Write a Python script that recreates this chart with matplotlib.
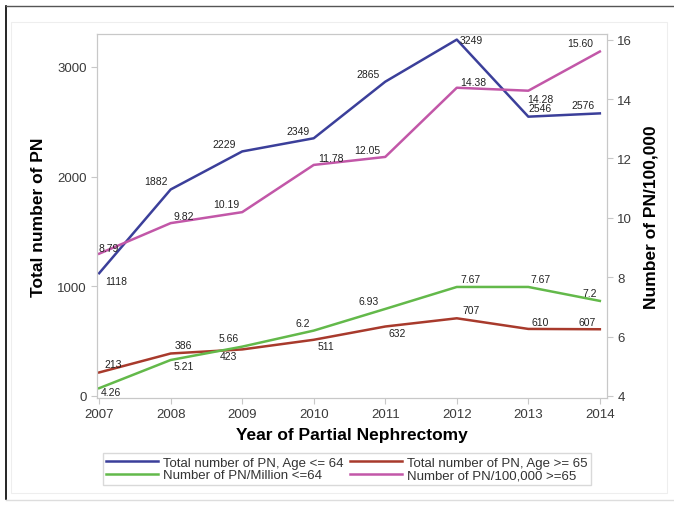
import matplotlib
matplotlib.use('Agg')
import matplotlib.pyplot as plt
from matplotlib.lines import Line2D
from matplotlib.patches import Rectangle

plt.rcParams['font.family'] = ['Liberation Sans', 'DejaVu Sans']

# 데이터
years = [2007, 2008, 2009, 2010, 2011, 2012, 2013, 2014]
total_le64 = [1118, 1882, 2229, 2349, 2865, 3249, 2546, 2576]
total_ge65 = [213, 386, 423, 511, 632, 707, 610, 607]
per_million_le64 = [4.26, 5.21, 5.66, 6.2, 6.93, 7.67, 7.67, 7.2]
per_100k_ge65 = [8.79, 9.82, 10.19, 11.78, 12.05, 14.38, 14.28, 15.60]

c_blue = '#3b3f9a'
c_red = '#a83a2c'
c_green = '#63b94a'
c_pink = '#c257a8'

W, H = 674, 506
fig = plt.figure(figsize=(W / 100, H / 100), dpi=100)
ax = fig.add_axes([97 / W, 1 - 399 / H, (607 - 97) / W, (399 - 35) / H])
ax2 = ax.twinx()

ax.plot(years, total_le64, color=c_blue, lw=1.8)
ax.plot(years, total_ge65, color=c_red, lw=1.8)
ax2.plot(years, per_million_le64, color=c_green, lw=1.8)
ax2.plot(years, per_100k_ge65, color=c_pink, lw=1.8)

ax.set_xlim(2006.97, 2014.1)
ax.set_ylim(-20, 3300)
ax2.set_ylim(3.93, 16.19)
ax.set_xticks(years)
ax.set_yticks([0, 1000, 2000, 3000])
ax2.set_yticks([4, 6, 8, 10, 12, 14, 16])

for a in (ax, ax2):
    for s in a.spines.values():
        s.set_color('#c8c8c8')
    a.tick_params(colors='#c8c8c8', labelcolor='#3a3a3a', labelsize=9.5, length=4)

ax.set_xlabel('Year of Partial Nephrectomy', fontsize=12.5, fontweight='bold', labelpad=5)
ax.set_ylabel('Total number of PN', fontsize=12.5, fontweight='bold', labelpad=8)
ax2.set_ylabel('Number of PN/100,000', fontsize=12.5, fontweight='bold', labelpad=8)

fs = 7.5

# 라벨 위치 (픽셀 오프셋: 오른쪽 +, 아래쪽 +)
def put_labels(a, vals, texts, offs):
    for x, y, t, (dx, dy) in zip(years, vals, texts, offs):
        a.annotate(t, (x, y), xytext=(dx, -dy), textcoords='offset pixels',
                   ha='center', va='center', fontsize=fs, color='#222222')

put_labels(ax, total_le64, [f"{v}" for v in total_le64],
           [(17, 8), (-15, -8), (-18, -7), (-16, -7), (-17, -8), (14, 0), (12, -9), (-17, -8)])
put_labels(ax, total_ge65, [f"{v}" for v in total_ge65],
           [(14, -8), (13, -8), (-14, 7), (12, 6), (12, 6), (14, -8), (12, -7), (-13, -7)])
put_labels(ax2, per_million_le64, [f"{v:g}" for v in per_million_le64],
           [(12, 4), (13, 6), (-14, -9), (-11, -8), (-17, -8), (14, -8), (12, -8), (-10, -8)])
put_labels(ax2, per_100k_ge65, [f"{v:.2f}" for v in per_100k_ge65],
           [(10, -6), (13, -7), (-16, -8), (17, -7), (-18, -7), (16, -6), (12, 8), (-20, -9)])

handles = [Line2D([], [], color=c_blue, lw=1.8), Line2D([], [], color=c_red, lw=1.8),
           Line2D([], [], color=c_green, lw=1.8), Line2D([], [], color=c_pink, lw=1.8)]
labels = ['Total number of PN, Age <= 64', 'Total number of PN, Age >= 65',
          'Number of PN/Million <=64', 'Number of PN/100,000 >=65']
order = [0, 2, 1, 3]
leg = fig.legend([handles[i] for i in order], [labels[i] for i in order], ncol=2,
                 loc='center', bbox_to_anchor=(347 / W, 1 - 470 / H), fontsize=9.5,
                 frameon=True, fancybox=False, edgecolor='#d0d0d0', handlelength=3.9,
                 columnspacing=0.5, handletextpad=0.4, labelspacing=0.0, borderpad=0.3)
for t in leg.get_texts():
    t.set_color('#333333')

# 바깥 테두리
fig.add_artist(Line2D([6 / W, 6 / W], [1 - 500 / H, 1 - 7 / H], color='black', lw=1.2))
fig.add_artist(Line2D([6 / W, 1], [1 - 7 / H, 1 - 7 / H], color='#555555', lw=1.0))
fig.add_artist(Line2D([6 / W, 1], [1 - 501 / H, 1 - 501 / H], color='#dddddd', lw=1.0))
fig.add_artist(Rectangle((11 / W, 1 - 494 / H), 656 / W, 471 / H, transform=fig.transFigure,
                         fill=False, edgecolor='#eeeeee', lw=0.8))

fig.savefig('out.png', dpi=100)
